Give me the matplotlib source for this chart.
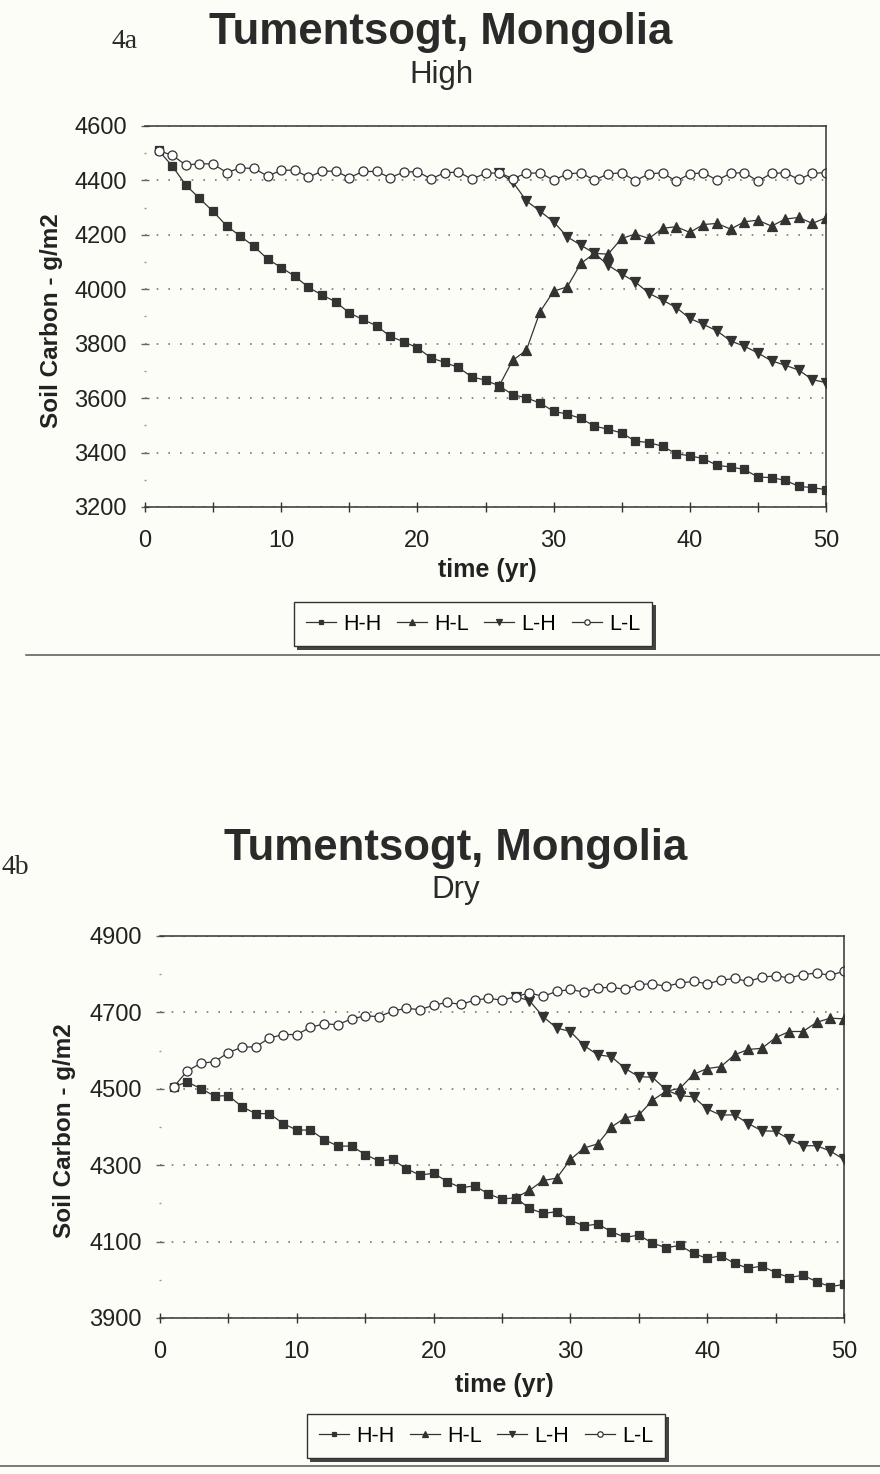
import matplotlib.pyplot as plt
from matplotlib.ticker import FixedLocator

plt.rcParams['font.family'] = ['Liberation Sans', 'DejaVu Sans']

years = list(range(1, 51))
branch_years = list(range(26, 51))
series_names = ['H-H', 'H-L', 'L-H', 'L-L']

# 4a - High
high_hh = [4510, 4453, 4383, 4334, 4286, 4233, 4195, 4158, 4111, 4080,
           4048, 4007, 3979, 3954, 3913, 3889, 3866, 3827, 3807, 3785,
           3748, 3731, 3713, 3678, 3666, 3645, 3613, 3601, 3582, 3552,
           3541, 3526, 3497, 3486, 3472, 3442, 3437, 3423, 3396, 3388,
           3378, 3353, 3347, 3338, 3310, 3308, 3298, 3276, 3271, 3264]
high_ll = [4509, 4493, 4456, 4462, 4460, 4429, 4446, 4444, 4416, 4437,
           4438, 4412, 4434, 4434, 4410, 4433, 4433, 4410, 4431, 4432,
           4406, 4428, 4431, 4405, 4426, 4428, 4407, 4426, 4428, 4401,
           4424, 4428, 4401, 4424, 4428, 4399, 4424, 4428, 4397, 4424,
           4428, 4401, 4426, 4429, 4397, 4426, 4428, 4404, 4426, 4429]
high_hl = [3645, 3739, 3776, 3917, 3993, 4009, 4095, 4132, 4129, 4187,
           4203, 4187, 4224, 4230, 4209, 4238, 4242, 4221, 4248, 4254,
           4232, 4258, 4264, 4242, 4263]
high_lh = [4428, 4395, 4325, 4287, 4248, 4193, 4162, 4132, 4089, 4056,
           4027, 3985, 3960, 3933, 3893, 3871, 3847, 3810, 3791, 3766,
           3737, 3721, 3703, 3668, 3657]
high_yticks = [3200, 3400, 3600, 3800, 4000, 4200, 4400, 4600]

# 4b - Dry
dry_hh = [4505, 4518, 4500, 4481, 4482, 4453, 4435, 4435, 4409, 4392,
          4392, 4367, 4350, 4350, 4328, 4311, 4315, 4291, 4274, 4279,
          4257, 4241, 4246, 4225, 4211, 4215, 4187, 4174, 4178, 4156,
          4141, 4146, 4126, 4111, 4117, 4096, 4084, 4090, 4069, 4056,
          4063, 4043, 4030, 4036, 4019, 4006, 4012, 3995, 3982, 3988]
dry_ll = [4505, 4547, 4567, 4571, 4595, 4609, 4610, 4633, 4642, 4642,
          4661, 4670, 4668, 4683, 4691, 4689, 4703, 4711, 4707, 4719,
          4726, 4721, 4732, 4737, 4732, 4741, 4751, 4742, 4755, 4760,
          4753, 4764, 4766, 4760, 4773, 4775, 4768, 4777, 4781, 4775,
          4784, 4789, 4781, 4792, 4796, 4790, 4799, 4803, 4797, 4808]
dry_hl = [4215, 4234, 4260, 4266, 4315, 4345, 4356, 4400, 4424, 4431,
          4470, 4494, 4501, 4538, 4553, 4558, 4589, 4603, 4606, 4634,
          4650, 4650, 4674, 4685, 4683]
dry_lh = [4741, 4731, 4689, 4659, 4650, 4613, 4589, 4584, 4553, 4532,
          4530, 4497, 4482, 4479, 4447, 4431, 4432, 4409, 4390, 4389,
          4368, 4351, 4351, 4337, 4315]
dry_yticks = [3900, 4100, 4300, 4500, 4700, 4900]

INK = '#333333'
PAPER = '#fdfdf7'
W, H = 880, 1474


def fx(px):
    return px / W


def fy(py):
    return 1 - py / H


def draw_panel(rect, hh, hl, lh, ll, yticks, xlab_y, ylab_x):
    ax = fig.add_axes(rect)
    ax.set_facecolor('none')
    kw = dict(color=INK, lw=0.9, mew=0.9)
    h1, = ax.plot(years, hh, marker='s', ms=6, mfc=INK, **kw)
    h2, = ax.plot(branch_years, hl, marker='^', ms=6.5, mfc=INK, **kw)
    h3, = ax.plot(branch_years, lh, marker='v', ms=6.5, mfc=INK, **kw)
    h4, = ax.plot(years, ll, marker='o', ms=6.5, mfc='white', **kw)

    ax.set_xlim(0, 50)
    ax.set_ylim(yticks[0], yticks[-1])
    ax.set_xticks(range(0, 51, 10))
    ax.set_xticks(range(5, 50, 10), minor=True)
    ax.set_yticks(yticks)
    step = yticks[1] - yticks[0]
    ax.yaxis.set_minor_locator(FixedLocator([v + step / 2 for v in yticks[:-1]]))
    ax.grid(axis='y', which='major', color='#777777', lw=1.2,
            ls=(0, (1, 6)))
    ax.spines['left'].set_visible(False)
    for s in ['top', 'right', 'bottom']:
        ax.spines[s].set_color(INK)
        ax.spines[s].set_linewidth(1.1)
    ax.tick_params(axis='x', which='both', direction='inout', length=7,
                   width=1, color=INK, labelsize=17, pad=13,
                   labelcolor='#222222')
    ax.tick_params(axis='y', which='major', direction='inout', length=6,
                   width=1, color='#666666', labelsize=17, pad=10,
                   labelcolor='#222222')
    ax.tick_params(axis='y', which='minor', direction='inout', length=2,
                   width=1, color='#999999')

    ax.set_xlabel('time (yr)', fontsize=18, fontweight='bold', color='#222222')
    ax.xaxis.label.set_va('center')
    ax.xaxis.set_label_coords(0.503, xlab_y)
    ax.set_ylabel('Soil Carbon - g/m2', fontsize=17.5, fontweight='bold',
                  color='#222222')
    ax.yaxis.label.set_va('center')
    ax.yaxis.set_label_coords(ylab_x, 0.49)
    return ax, [h1, h2, h3, h4]


fig = plt.figure(figsize=(8.8, 14.74), dpi=100, facecolor=PAPER)

# ---- 4a High
ax1, handles = draw_panel([fx(145), fy(507), fx(681), 381 / H],
                          high_hh, high_hl, high_lh, high_ll,
                          high_yticks, -0.165, -0.137)
fig.text(fx(441), fy(44), 'Tumentsogt, Mongolia', ha='center', va='baseline',
         fontsize=31.5, fontweight='bold', color='#2a2a2a')
fig.text(fx(441), fy(83), 'High', ha='center', va='baseline',
         fontsize=22.5, color='#2a2a2a')
fig.text(fx(112), fy(48), '4a', ha='left', va='baseline', fontsize=20,
         family=['Liberation Serif', 'DejaVu Serif'], color='#2a2a2a')

leg_kw = dict(loc='center', ncol=4, fontsize=15.5, frameon=True,
              fancybox=False, edgecolor=INK, facecolor=PAPER, framealpha=1,
              markerscale=0.6, handlelength=1.4, handletextpad=0.35,
              columnspacing=0.7, borderpad=0.55,
              shadow={'ox': 2.5, 'oy': -2.5, 'facecolor': '#444444',
                      'edgecolor': 'none', 'alpha': 1})
lg1 = fig.legend(handles, series_names, bbox_to_anchor=(fx(473), fy(624)),
                 **leg_kw)
lg1.get_frame().set_linewidth(1.0)

fig.add_artist(plt.Line2D([0.03, 1.0], [fy(655), fy(655)], color='#555555',
                          lw=1.1))

# ---- 4b Dry
ax2, handles2 = draw_panel([fx(160), fy(1318), fx(684), 382 / H],
                           dry_hh, dry_hl, dry_lh, dry_ll,
                           dry_yticks, -0.175, -0.14)
fig.text(fx(456), fy(860), 'Tumentsogt, Mongolia', ha='center',
         va='baseline', fontsize=31.5, fontweight='bold', color='#2a2a2a')
fig.text(fx(456), fy(898), 'Dry', ha='center', va='baseline',
         fontsize=22.5, color='#2a2a2a')
fig.text(fx(1), fy(874), '4b', ha='left', va='baseline', fontsize=20,
         family=['Liberation Serif', 'DejaVu Serif'], color='#2a2a2a')

lg2 = fig.legend(handles2, series_names, bbox_to_anchor=(fx(486), fy(1436)),
                 **leg_kw)
lg2.get_frame().set_linewidth(1.0)

fig.add_artist(plt.Line2D([0.0, 1.0], [fy(1466), fy(1466)], color='#555555',
                          lw=1.1))

fig.savefig('out.png', dpi=100, facecolor=PAPER)
